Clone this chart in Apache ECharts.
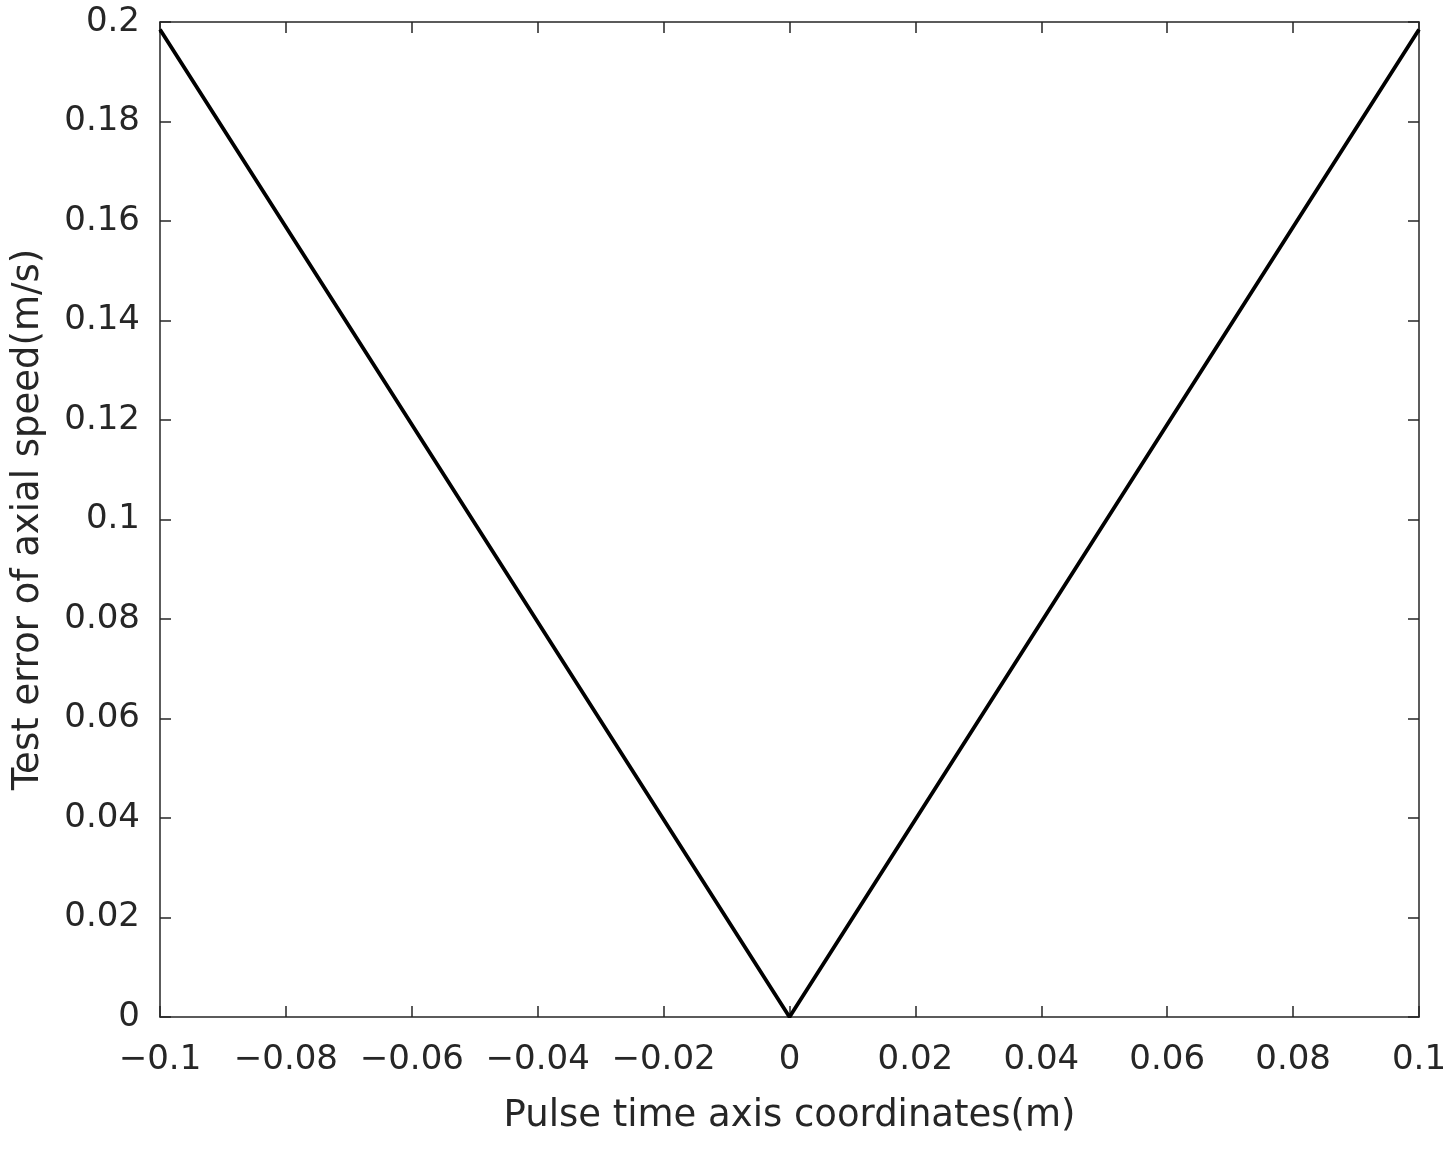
<!DOCTYPE html>
<html>
<head>
<meta charset="utf-8">
<script src="https://cdn.jsdelivr.net/npm/echarts@6/dist/echarts.min.js"></script>
<style>
  html, body { margin: 0; padding: 0; background: #fff; }
  #chart { width: 1453px; height: 1149px; }
</style>
</head>
<body>
<div id="chart"></div>
<script>
// data
var xValues = [-0.1, 0, 0.1];
var errValues = [0.1985, 0, 0.1985];

var FONT = '"DejaVu Sans", "Liberation Sans", sans-serif';
var AXIS_COLOR = '#262626';

function fmt(v) {
  var s = String(parseFloat(v.toFixed(4)));
  return v < 0 ? '\u2212' + s.slice(1) : s;
}

var chart = echarts.init(document.getElementById('chart'));

var tickStyle = { show: true, inside: true, length: 11, lineStyle: { color: AXIS_COLOR, width: 1.5 } };
var lineStyle = { show: true, onZero: false, lineStyle: { color: AXIS_COLOR, width: 1.5 } };

chart.setOption({
  animation: false,
  backgroundColor: '#fff',
  grid: { left: 160, right: 34, top: 22, bottom: 132, containLabel: false },
  xAxis: [{
    type: 'value', min: -0.1, max: 0.1, interval: 0.02, position: 'bottom',
    axisLine: lineStyle, axisTick: tickStyle, splitLine: { show: false },
    axisLabel: { color: AXIS_COLOR, fontSize: 34, fontFamily: FONT, margin: 26, formatter: fmt },
    name: 'Pulse time axis coordinates(m)', nameLocation: 'middle', nameGap: 81,
    nameTextStyle: { color: AXIS_COLOR, fontSize: 37, fontFamily: FONT }
  }, {
    type: 'value', min: -0.1, max: 0.1, interval: 0.02, position: 'top',
    axisLine: lineStyle, axisTick: tickStyle, splitLine: { show: false }, axisLabel: { show: false }
  }],
  yAxis: [{
    type: 'value', min: 0, max: 0.2, interval: 0.02, position: 'left',
    axisLine: lineStyle, axisTick: tickStyle, splitLine: { show: false },
    axisLabel: { color: AXIS_COLOR, fontSize: 34, fontFamily: FONT, margin: 20, formatter: fmt },
    name: 'Test error of axial speed(m/s)', nameLocation: 'middle', nameGap: 113,
    nameTextStyle: { color: AXIS_COLOR, fontSize: 37, fontFamily: FONT }
  }, {
    type: 'value', min: 0, max: 0.2, interval: 0.02, position: 'right',
    axisLine: lineStyle, axisTick: tickStyle, splitLine: { show: false }, axisLabel: { show: false }
  }],
  series: [{
    type: 'line',
    data: xValues.map(function (x, i) { return [x, errValues[i]]; }),
    showSymbol: false,
    lineStyle: { color: '#000', width: 3.8 }
  }]
});
</script>
</body>
</html>
